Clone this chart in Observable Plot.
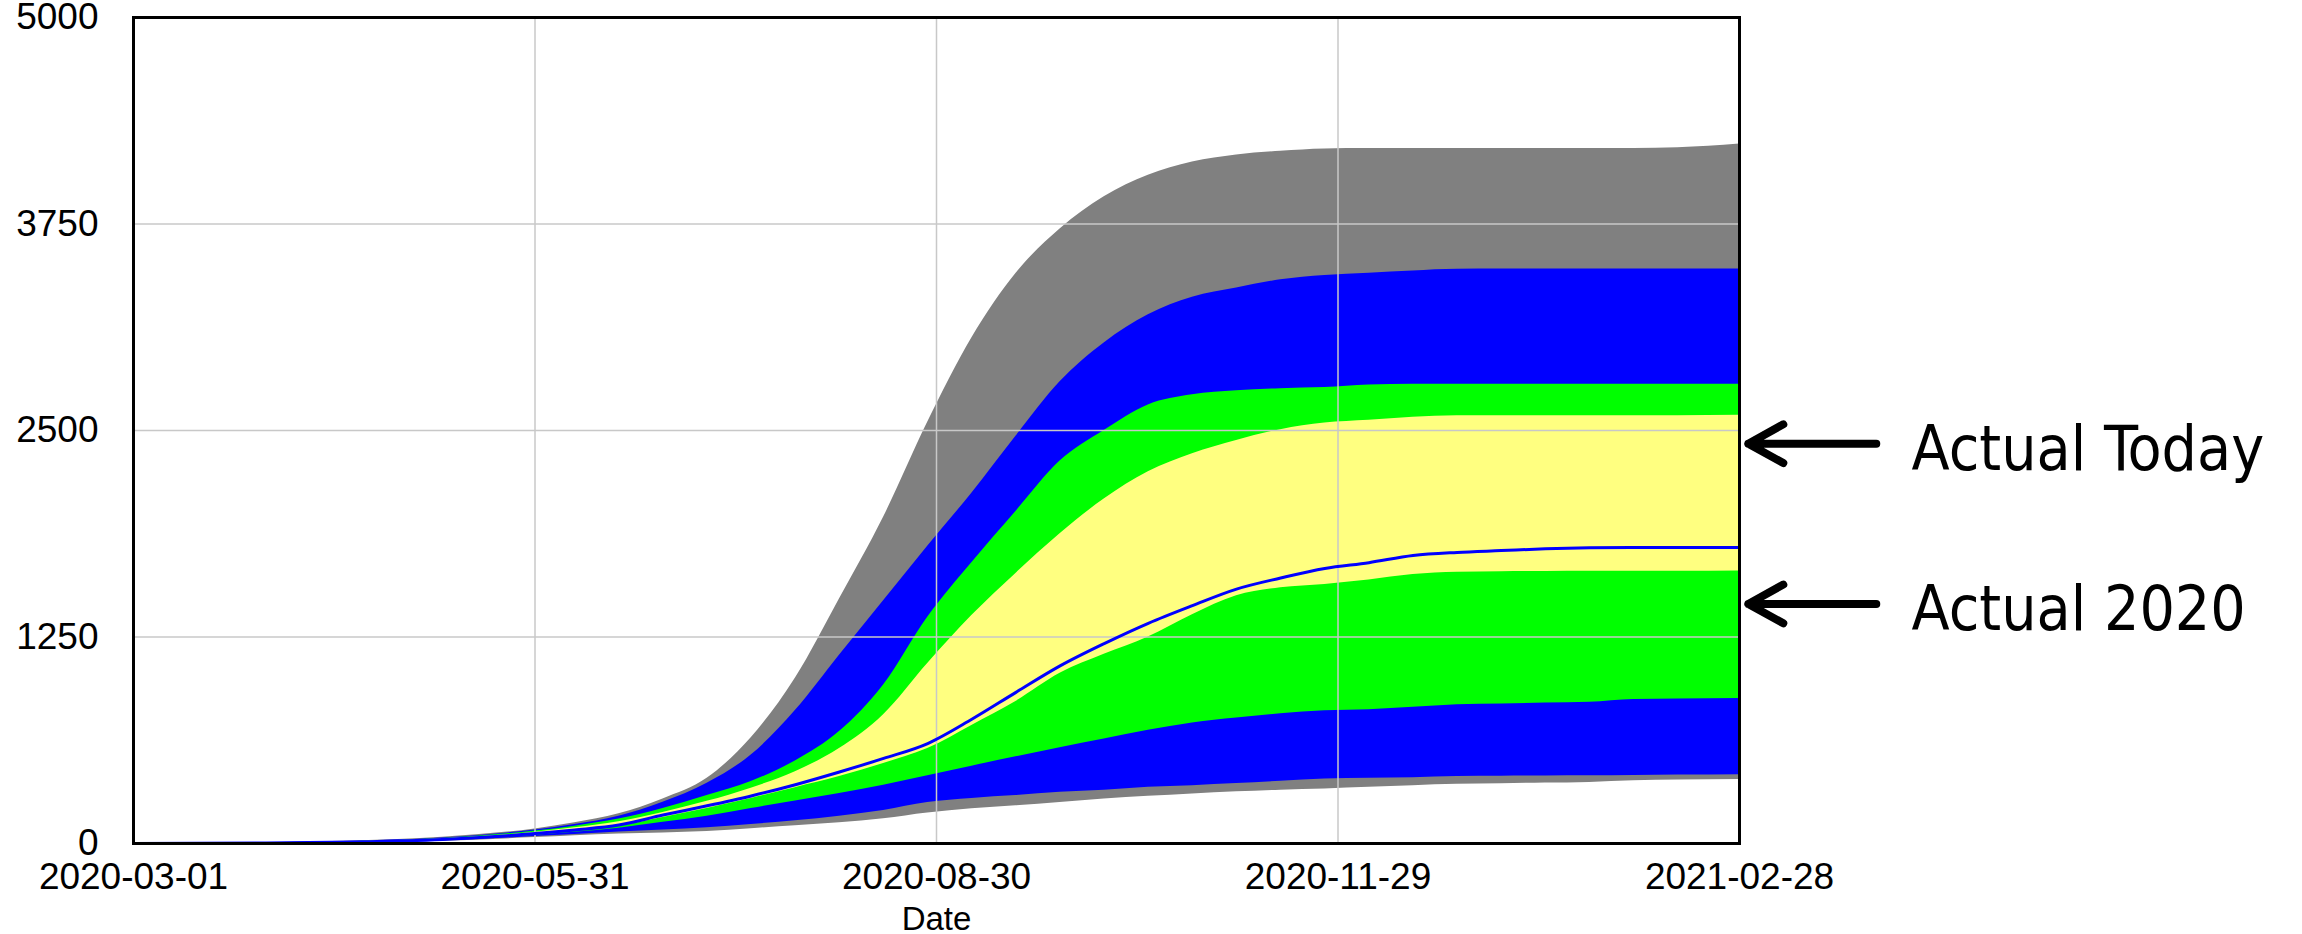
<!DOCTYPE html>
<html>
<head>
<meta charset="utf-8">
<script src="https://cdn.jsdelivr.net/npm/d3@7"></script>
<script src="https://cdn.jsdelivr.net/npm/@observablehq/plot@0.6"></script>
<style>
  html, body { margin: 0; padding: 0; background: #fff; overflow: hidden; }
  #chart svg { display: block; }
</style>
</head>
<body>
<div id="chart"></div>
<script>
// ---- data ----
const dates = ["2020-03-01","2020-03-31","2020-04-20","2020-05-10","2020-05-31","2020-06-09","2020-06-19","2020-06-29",
  "2020-07-09","2020-07-19","2020-07-29","2020-08-08","2020-08-18","2020-08-28","2020-09-07","2020-09-17",
  "2020-09-27","2020-10-07","2020-10-17","2020-10-27","2020-11-06","2020-11-16","2020-11-26","2020-12-06",
  "2020-12-16","2020-12-26","2021-01-05","2021-01-15","2021-01-25","2021-02-04","2021-02-14","2021-02-28"];
const maxRun = [0,5,15,38,88,125,180,270,395,640,1000,1480,1975,2550,3060,3450,3720,3915,4045,4125,4168,4190,4204,4207,4207,4207,4207,4207,4207,4207,4212,4235];
const p975 = [0,4,13,34,82,115,165,250,365,535,805,1140,1470,1800,2120,2465,2795,3030,3200,3306,3362,3412,3438,3452,3466,3476,3477,3477,3477,3477,3477,3478];
const p875 = [0,4,12,31,75,105,148,212,290,375,500,678,960,1370,1700,2010,2315,2500,2655,2716,2740,2753,2760,2775,2780,2780,2780,2780,2780,2780,2780,2780];
const p75 = [0,3,11,28,68,95,132,188,255,335,435,575,780,1090,1380,1635,1875,2085,2250,2360,2440,2505,2545,2562,2580,2589,2590,2590,2590,2590,2590,2592];
const baseRun = [0,3,9,24,60,82,112,172,228,288,356,433,515,605,752,915,1075,1210,1333,1440,1540,1607,1665,1700,1743,1762,1773,1784,1790,1792,1792,1792];
const p25 = [0,3,8,22,57,78,105,158,212,272,338,405,485,575,715,860,1030,1145,1250,1385,1500,1548,1568,1595,1628,1642,1645,1647,1648,1648,1648,1650];
const p125 = [0,2,7,19,50,68,92,128,165,212,258,302,353,410,468,525,580,632,685,730,760,785,803,810,825,840,845,850,855,872,875,878];
const p025 = [0,2,6,16,42,55,70,82,95,115,137,165,200,248,273,290,310,323,340,350,363,377,390,395,398,405,407,409,410,412,414,416];
const minRun = [0,1,5,14,36,47,57,64,73,90,108,125,150,185,210,228,248,270,286,300,313,323,330,340,350,358,362,366,370,380,384,388];

const xTickLabels = ["2020-03-01","2020-05-31","2020-08-30","2020-11-29","2021-02-28"];
const yTicks = [0, 1250, 2500, 3750, 5000];
const annotLabels = ["Actual Today", "Actual 2020"];
const annotValues = [2420, 1450];
const xLabel = "Date";

// ---- build table ----
const rows = dates.map((d, i) => ({
  date: new Date(d + "T00:00:00Z"),
  min: minRun[i], p025: p025[i], p125: p125[i], p25: p25[i], base: baseRun[i],
  p75: p75[i], p875: p875[i], p975: p975[i], max: maxRun[i]
}));
const xTicks = xTickLabels.map(d => new Date(d + "T00:00:00Z"));
const start = xTicks[0], end = xTicks[xTicks.length - 1];
const annots = annotLabels.map((t, i) => ({label: t, value: annotValues[i]}));

const curve = "monotone-x";
const chart = Plot.plot({
  width: 2302,
  height: 934,
  marginLeft: 133,
  marginRight: 563,
  marginTop: 17,
  marginBottom: 91,
  style: {fontFamily: "'Liberation Sans', Arial, sans-serif", fontSize: "37px", background: "#fff", color: "#000", overflow: "visible"},
  x: {type: "utc", domain: [start, end]},
  y: {domain: [0, 5000]},
  marks: [
    Plot.areaY(rows, {x: "date", y1: "min", y2: "max", fill: "#808080", curve}),
    Plot.areaY(rows, {x: "date", y1: "p025", y2: "p975", fill: "#0000ff", curve}),
    Plot.areaY(rows, {x: "date", y1: "p125", y2: "p875", fill: "#00ff00", curve}),
    Plot.areaY(rows, {x: "date", y1: "p25", y2: "p75", fill: "#ffff80", curve}),
    Plot.gridX(xTicks, {stroke: "#c8c8c8", strokeOpacity: 1, strokeWidth: 1.5}),
    Plot.gridY(yTicks, {stroke: "#c8c8c8", strokeOpacity: 1, strokeWidth: 1.5}),
    Plot.line(rows, {x: "date", y: "base", stroke: "#0000ff", strokeWidth: 3, curve}),
    Plot.frame({stroke: "#000", strokeWidth: 3}),
    Plot.axisX(xTicks, {tickFormat: d3.utcFormat("%Y-%m-%d"), tickSize: 0, tickPadding: 19, label: null, fontSize: 37}),
    Plot.axisY(yTicks, {tickFormat: d => String(d), tickSize: 0, tickPadding: 35, label: null, fontSize: 37}),
    Plot.text([xLabel], {frameAnchor: "bottom", lineAnchor: "middle", dy: 76, fontSize: 33, fill: "#000"}),
    Plot.arrow(annots, {
      x1: () => d3.utcDay.offset(end, 31), x2: () => d3.utcDay.offset(end, 2),
      y: "value", stroke: "#000", strokeWidth: 8, headLength: 7.5, headAngle: 58,
      strokeLinecap: "round", strokeLinejoin: "round"
    }),
    Plot.text(annots, {
      x: () => d3.utcDay.offset(end, 39), y: "value", text: "label", dy: 6,
      textAnchor: "start", fontSize: 62, fill: "#000",
      fontFamily: "'DejaVu Sans Condensed', 'DejaVu Sans', sans-serif",
      fontStretch: "condensed"
    })
  ]
});
document.getElementById("chart").appendChild(chart);
</script>
</body>
</html>
